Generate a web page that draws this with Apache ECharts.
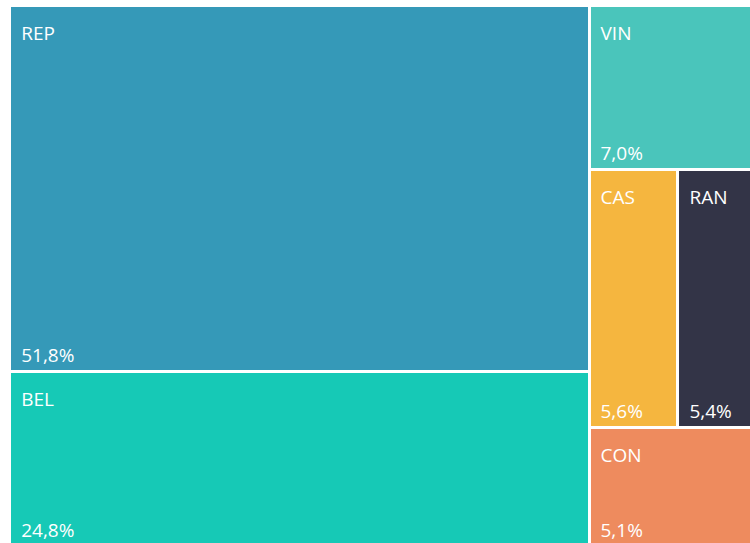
<!DOCTYPE html>
<html>
<head>
<meta charset="utf-8">
<script src="https://cdn.jsdelivr.net/npm/echarts@6/dist/echarts.min.js"></script>
<style>
html,body{margin:0;padding:0;background:#fff;}
#c{width:750px;height:543px;}
#c svg path{shape-rendering:crispEdges;}
</style>
</head>
<body>
<div id="c"></div>
<script>
const names = ['REP', 'BEL', 'VIN', 'CAS', 'RAN', 'CON'];
const values = [51.8, 24.8, 7.0, 5.6, 5.4, 5.1];
const colors = ['#3599B8', '#16C9B6', '#4AC5BB', '#F5B63F', '#333447', '#EE8B5E'];

const FONT = '"Open Sans", "Noto Sans", sans-serif';
const fmtPct = v => v.toFixed(1).replace('.', ',') + '%';

const data = names.map((n, i) => ({
  name: n,
  value: values[i],
  itemStyle: { color: colors[i], borderColor: colors[i] },
  children: [{
    name: fmtPct(values[i]),
    value: values[i],
    itemStyle: { color: colors[i], borderColor: colors[i] }
  }]
}));

const chart = echarts.init(document.getElementById('c'), null, { renderer: 'svg' });
chart.setOption({
  animation: false,
  series: [{
    type: 'treemap',
    left: 11.2, top: 6.8, width: 751, height: 538.5,
    roam: false,
    nodeClick: false,
    breadcrumb: { show: false },
    silent: true,
    levels: [
      { itemStyle: { gapWidth: 3, borderWidth: 0, borderColor: '#fff' } },
      {
        itemStyle: { gapWidth: 0, borderWidth: 0 },
        upperLabel: {
          show: true, height: 53, position: [10, '50%'], verticalAlign: 'middle',
          color: '#fff', fontSize: 19, fontFamily: FONT, padding: 0
        }
      },
      {
        itemStyle: { gapWidth: 0, borderWidth: 0 },
        label: {
          show: true, position: 'insideBottomLeft', distance: 0,
          padding: [0, 0, 4, 10], color: '#fff', fontSize: 19, fontFamily: FONT, lineHeight: 22
        }
      }
    ],
    data: data
  }]
});
</script>
</body>
</html>
